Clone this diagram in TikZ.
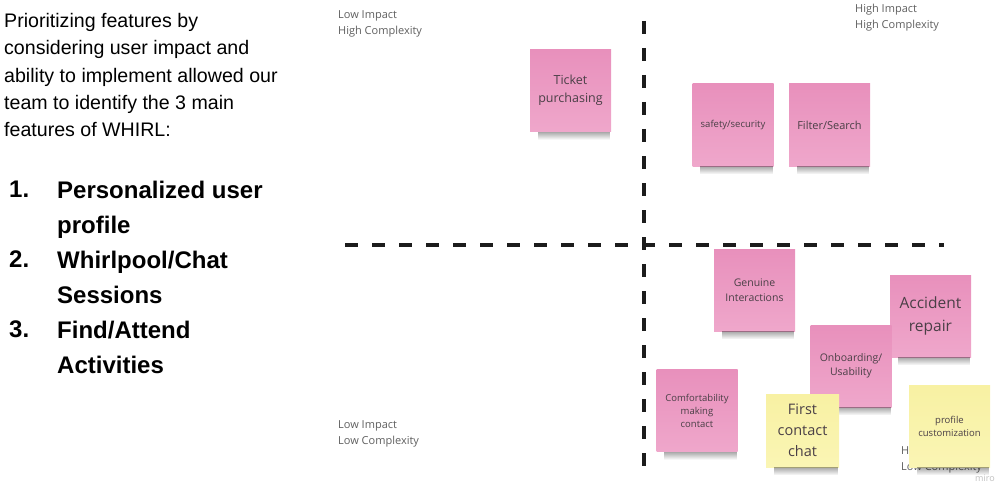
\documentclass[tikz,border=0pt]{standalone}
\usepackage{fontspec}
\setmainfont{Liberation Sans}
\newfontfamily\notefont{Open Sans}
\usetikzlibrary{fadings}

\definecolor{pinktop}{HTML}{E890BC}
\definecolor{pinkbot}{HTML}{EFA7CB}
\definecolor{yeltop}{HTML}{F8F1A3}
\definecolor{yelbot}{HTML}{FAF5B4}
\definecolor{notetext}{HTML}{4A3F46}
\definecolor{labelgray}{HTML}{5F5F5F}
\definecolor{axisblack}{HTML}{1C1C1C}
\tikzfading[name=shadowfade,top color=transparent!0,bottom color=transparent!100]
\newcommand{\noteshadow}[1]{\fill[black,opacity=.35,path fading=shadowfade] ([xshift=8pt]#1.south west) rectangle ([xshift=-1pt,yshift=-8pt]#1.south east);}

\begin{document}
\begin{tikzpicture}[x=1pt,y=-1pt,line cap=butt,
  note/.style={minimum width=81pt,minimum height=82pt,inner sep=0pt,align=center,text=notetext,top color=pinktop,bottom color=pinkbot},
  yellownote/.style={note,top color=yeltop,bottom color=yelbot},
  corner/.style={anchor=north west,inner sep=0pt,align=left,text=labelgray,font=\notefont\fontsize{11}{16}\selectfont},
  listnum/.style={anchor=north west,inner sep=0pt,font=\bfseries\fontsize{24}{35}\selectfont},
  listitem/.style={listnum,align=left},
  axis/.style={line width=3.3pt,color=axisblack,dash pattern=on 13pt off 14pt}]
\useasboundingbox (0,0) rectangle (998,484);
%\draw[help lines,step=50] (0,0) grid (998,484);

% left text
\node[anchor=north west,inner sep=0pt,align=left,font=\fontsize{19.6}{27.3}\selectfont] (intro) at (4,13)
  {Prioritizing features by\\considering user impact and\\ability to implement allowed our\\team to identify the 3 main\\features of WHIRL:};
\node[listnum] (num1) at (9,180.5) {1.};
\node[listitem] (item1) at (57,180.5) {Personalized user\\profile};
\node[listnum] (num2) at (9,250.5) {2.};
\node[listitem] (item2) at (57,250.5) {Whirlpool/Chat\\Sessions};
\node[listnum] (num3) at (9,320.5) {3.};
\node[listitem] (item3) at (57,320.5) {Find/Attend\\Activities};

% quadrant labels
\node[corner] (lowhigh) at (338,10.5) {Low Impact\\High Complexity};
\node[corner] (highhigh) at (855,3.5) {High Impact\\High Complexity};
\node[corner] (lowlow) at (338,420.5) {Low Impact\\Low Complexity};
\node[corner] (highlow) at (901,445.5) {High Impact\\Low Complexity};
\node[text=black!25,font=\notefont\fontsize{9}{9}\selectfont,inner sep=0pt] (miro) at (985,478) {miro};

% axes
\coordinate (vtop) at (644,21);
\coordinate (vbot) at (644,467);
\coordinate (hleft) at (345,245);
\coordinate (hright) at (944,245);
\draw[axis] (vtop) -- (vbot);
\draw[axis] (hleft) -- (hright);

% sticky notes
\node[note,font=\notefont\fontsize{12.5}{18}\selectfont] (ticket) at (570.5,90.5) {Ticket\\purchasing};
\noteshadow{ticket}
\node[note,font=\notefont\fontsize{9.5}{13}\selectfont] (safety) at (733,125) {safety/security};
\noteshadow{safety}
\node[note,font=\notefont\fontsize{11}{15}\selectfont] (filter) at (829.5,125) {Filter/Search};
\noteshadow{filter}
\node[note,font=\notefont\fontsize{10.5}{15}\selectfont] (genuine) at (754.5,290) {Genuine\\Interactions};
\noteshadow{genuine}
\node[note,font=\notefont\fontsize{15.5}{23}\selectfont] (accident) at (930.5,316) {Accident\\repair};
\noteshadow{accident}
\node[note,font=\notefont\fontsize{10.5}{14}\selectfont] (onboard) at (851,366) {Onboarding/\\Usability};
\noteshadow{onboard}
\node[note,font=\notefont\fontsize{9.5}{13}\selectfont] (comfort) at (697,410.5) {Comfortability\\making\\contact};
\noteshadow{comfort}
\node[yellownote,minimum width=73pt,minimum height=73pt,font=\notefont\fontsize{14.5}{21}\selectfont] (firstchat) at (802.5,430.5) {First\\contact\\chat};
\noteshadow{firstchat}
\node[yellownote,font=\notefont\fontsize{9.5}{13}\selectfont] (profile) at (949.5,426) {profile\\customization};
\noteshadow{profile}
\end{tikzpicture}
\end{document}
